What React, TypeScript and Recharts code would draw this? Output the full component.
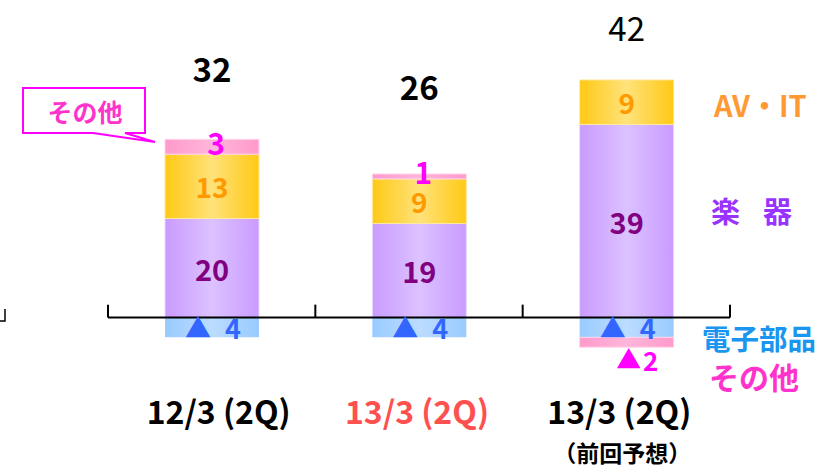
import React from 'react';
import { BarChart, Bar, XAxis, YAxis, ReferenceLine, LabelList } from 'recharts';

const categories = ['12/3 (2Q)', '13/3 (2Q)', '13/3 (2Q)'];
const subLabels = ['', '', '（前回予想）'];
const electronic = [-4, -4, -4];
const instruments = [20, 19, 39];
const avit = [13, 9, 9];
const others = [3, 1, -2];
const totals = [32, 26, 42];
const boundaries = [-0.5, 0.5, 1.5, 2.5];

const data = categories.map((name, i) => ({
  name,
  idx: i,
  electronic: electronic[i],
  instruments: instruments[i],
  avit: avit[i],
  others: others[i],
  total: totals[i],
}));

const FONT = "'Noto Sans CJK JP', 'Noto Sans', sans-serif";
const catColors = ['#000000', '#ff5050', '#000000'];
const catShift = [7, -2, -7];
// how far above the AV・IT segment each total sits
const totalGap = [86, 93, 53];
const totalWeight = ['bold', 'bold', 'normal'];

const box = (p: any) => {
  const top = Math.min(p.y, p.y + p.height);
  const h = Math.abs(p.height);
  return { cx: p.x + p.width / 2, top, h, bottom: top + h };
};

const segLabel = (color: string, size: number, dx = 0, dy = 0) => (p: any) => {
  const b = box(p);
  return (
    <text x={b.cx + dx} y={b.top + b.h / 2 + dy} textAnchor="middle" dominantBaseline="central"
      fill={color} fontSize={size} fontWeight="bold" fontFamily={FONT}>
      {p.value}
    </text>
  );
};

const minusLabel = (color: string, size: number, cy: (b: any) => number, tx: number, nx: number) =>
  (p: any) => {
    const b = box(p);
    const y = cy(b);
    return (
      <g fontFamily={FONT} fontWeight="bold" fill={color}>
        <text x={b.cx + tx} y={y} textAnchor="middle" dominantBaseline="central" fontSize={size}>▲</text>
        <text x={b.cx + nx} y={y + 1} textAnchor="middle" dominantBaseline="central" fontSize={size + 1}>
          {Math.abs(p.value)}
        </text>
      </g>
    );
  };

const electronicLabel = minusLabel('#3366ff', 26, (b) => b.top + b.h / 2 - 1, -14, 21);
const othersNeg = minusLabel('#ff00ff', 25, (b) => b.bottom + 11, 2, 24);
const othersPos = segLabel('#ff00ff', 30, 4, -5);
const othersLabel = (p: any) => (p.value < 0 ? othersNeg(p) : othersPos(p));

const totalLabel = (p: any) => {
  const b = box(p);
  const i = p.index;
  return (
    <text x={b.cx} y={b.top - totalGap[i]} textAnchor="middle" dominantBaseline="central"
      fill="#000" fontSize={33} fontWeight={totalWeight[i]} fontFamily={FONT}>
      {totals[i]}
    </text>
  );
};

const CatTick = (p: any) => {
  const i = p.index;
  const x = p.x + catShift[i];
  return (
    <g fontFamily={FONT} fontWeight="bold" textAnchor="middle">
      <text x={x} y={p.y + 35} dominantBaseline="central" fontSize={32} fill={catColors[i]}>
        {categories[i]}
      </text>
      {subLabels[i] && (
        <text x={x + 3} y={p.y + 77} dominantBaseline="central" fontSize={23} fill="#000">
          {subLabels[i]}
        </text>
      )}
    </g>
  );
};

const grad = (id: string, edge: string, mid: string) => (
  <linearGradient id={id} x1="0" y1="0" x2="1" y2="0">
    <stop offset="0" stopColor={edge} />
    <stop offset="0.5" stopColor={mid} />
    <stop offset="1" stopColor={edge} />
  </linearGradient>
);

export default function App() {
  return (
    <div style={{ position: 'absolute', left: 0, top: 0, width: 830, height: 469, background: '#fff' }}>
      <BarChart width={830} height={469} data={data} stackOffset="sign" barSize={94}
        margin={{ top: 70, right: 100, bottom: 72, left: 108 }}>
        <defs>
          {grad('gPurple', '#c99bff', '#dcc2ff')}
          {grad('gYellow', '#ffc914', '#ffe27a')}
          {grad('gPink', '#ff9acc', '#ffb6da')}
          {grad('gBlue', '#99cbff', '#bcdcff')}
        </defs>
        <XAxis dataKey="name" axisLine={false} tickLine={false} height={30} tick={<CatTick />} interval={0} />
        <XAxis xAxisId="grid" dataKey="idx" type="number" domain={[-0.5, 2.5]} allowDataOverflow hide />
        <YAxis hide domain={[-10, 50]} allowDataOverflow />
        <Bar dataKey="electronic" stackId="a" fill="url(#gBlue)" isAnimationActive={false}>
          <LabelList dataKey="electronic" content={electronicLabel} />
        </Bar>
        <Bar dataKey="instruments" stackId="a" fill="url(#gPurple)" stroke="#e9dcff" strokeWidth={1} isAnimationActive={false}>
          <LabelList dataKey="instruments" content={segLabel('#800080', 29)} />
        </Bar>
        <Bar dataKey="avit" stackId="a" fill="url(#gYellow)" stroke="#ffe9a0" strokeWidth={1} isAnimationActive={false}>
          <LabelList dataKey="avit" content={segLabel('#ff9900', 28)} />
          <LabelList dataKey="total" content={totalLabel} />
        </Bar>
        <Bar dataKey="others" stackId="a" fill="url(#gPink)" stroke="#ffd6ea" strokeWidth={1} isAnimationActive={false}>
          <LabelList dataKey="others" content={othersLabel} />
        </Bar>
        <ReferenceLine y={0} stroke="#000" strokeWidth={2} ifOverflow="visible" />
        {boundaries.map((b) => (
          <ReferenceLine key={b} xAxisId="grid" ifOverflow="visible" stroke="#000" strokeWidth={2}
            segment={[{ x: b, y: 0 }, { x: b, y: 2.6 }]} />
        ))}
      </BarChart>
      <svg width={830} height={469} style={{ position: 'absolute', left: 0, top: 0, pointerEvents: 'none' }}
        fontFamily={FONT} fontWeight="bold">
        <path d="M 5 309 V 321 H 0" stroke="#000" strokeWidth={1.5} fill="none" />
        <path d="M 23 88 H 145 V 133 H 125 L 155 142 L 93 133 H 23 Z" stroke="#ff00ff" strokeWidth={2} fill="#fff" />
        <text x={85} y={111} textAnchor="middle" dominantBaseline="central" fontSize={25} fill="#ff33cc">その他</text>
        <text x={714} y={104} dominantBaseline="central" fontSize={29} fill="#ff9933">AV・IT</text>
        <text x={711} y={210} dominantBaseline="central" fontSize={29} fill="#9933ff">楽</text>
        <text x={763} y={210} dominantBaseline="central" fontSize={29} fill="#9933ff">器</text>
        <text x={702} y={337} dominantBaseline="central" fontSize={28.5} fill="#1a96f0">電子部品</text>
        <text x={709} y={376} dominantBaseline="central" fontSize={30} fill="#ff33cc">その他</text>
      </svg>
    </div>
  );
}
